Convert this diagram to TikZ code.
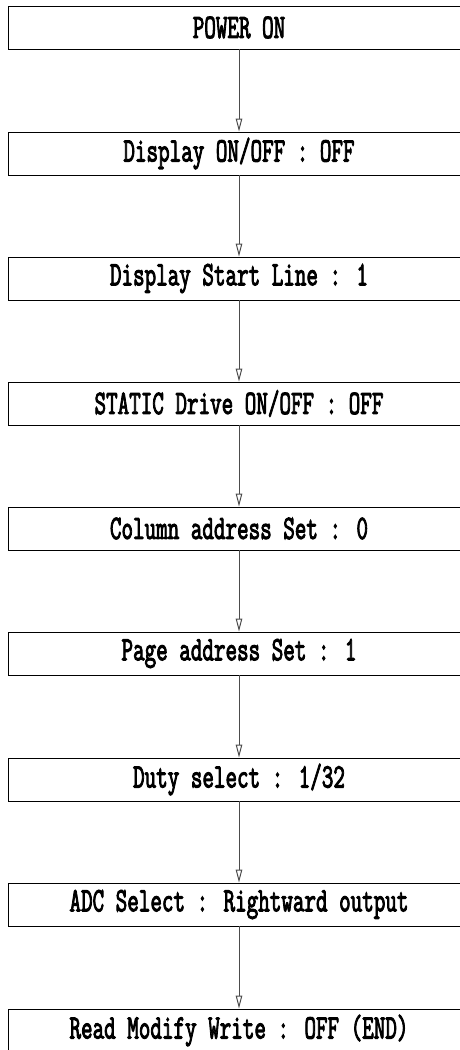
\documentclass[tikz,border=0pt]{standalone}
\usepackage{fontspec}
\newfontfamily\cadfont{Latin Modern Mono}[FakeBold=3.5]
\usetikzlibrary{arrows.meta}

\tikzset{
  stepbox/.style={draw, line width=0.9pt, minimum width=462pt, minimum height=43pt,
    inner sep=0pt, font=\cadfont\fontsize{34}{34}\selectfont},
  flow/.style={draw=black!70, line width=1pt, -{Triangle[open, length=13pt, width=6.5pt]}}
}
\newcommand{\cnd}[1]{\scalebox{0.66}[1]{#1}}

\begin{document}
\begin{tikzpicture}[x=1pt,y=-1pt]
\useasboundingbox (0,0) rectangle (459,1050);

% Etapes
\node[stepbox] (pwr)  at (239,27.5)   {\cnd{POWER ON}};
\node[stepbox] (disp) at (239,153.5)  {\cnd{Display ON/OFF : OFF}};
\node[stepbox] (line) at (239,278.5)  {\cnd{Display Start Line : 1}};
\node[stepbox] (stat) at (239,403.5)  {\cnd{STATIC Drive ON/OFF : OFF}};
\node[stepbox] (col)  at (239,528.5)  {\cnd{Column address Set : 0}};
\node[stepbox] (page) at (239,653.5)  {\cnd{Page address Set : 1}};
\node[stepbox] (duty) at (239,779.5)  {\cnd{Duty select : 1/32}};
\node[stepbox] (adc)  at (239,904.5)  {\cnd{ADC Select : Rightward output}};
\node[stepbox] (rmw)  at (239,1030.5) {\cnd{Read Modify Write : OFF (END)}};

% Fleches
\foreach \a/\b in {pwr/disp, disp/line, line/stat, stat/col, col/page, page/duty, duty/adc, adc/rmw}
  \draw[flow] (\a.south) -- (\b.north);
\end{tikzpicture}
\end{document}
